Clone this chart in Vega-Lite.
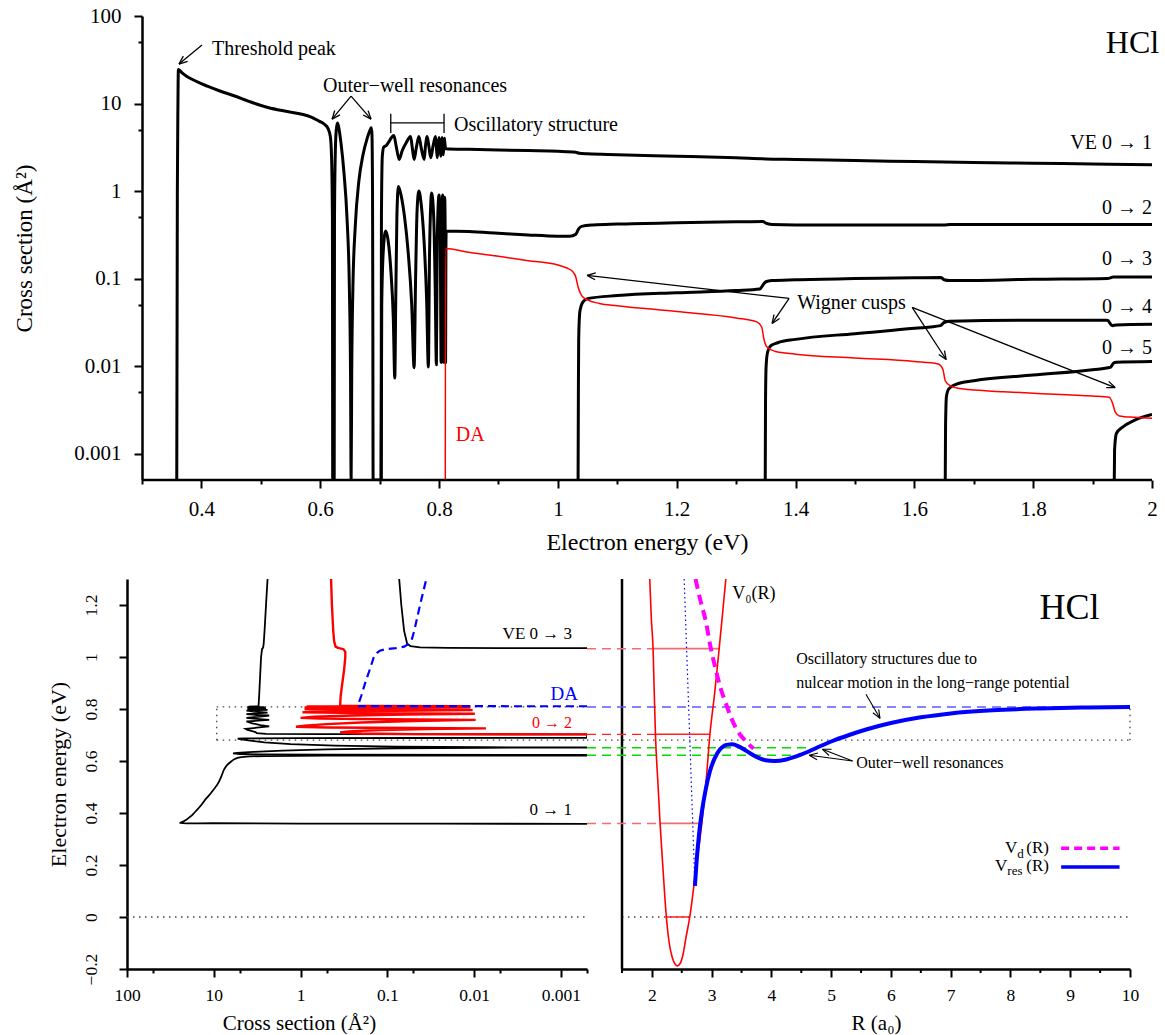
{
"$schema": "https://vega.github.io/schema/vega-lite/v6.json",
"padding": {"left": 13, "top": 5, "right": 5, "bottom": 2},
"background": "white",
"config": {"view": {"stroke": null}, "font": "Liberation Serif",
 "axis": {"domainColor": "black", "domainWidth": 2.5, "tickColor": "black", "tickWidth": 2, "labelColor": "black", "titleColor": "black", "grid": false, "labelFont": "Liberation Serif", "titleFont": "Liberation Serif", "titleFontWeight": "normal", "labelFlush": false, "labelOverlap": false, "labelBound": false},
 "text": {"font": "Liberation Serif"}},
"datasets": {
 "cs": [
{"s":"01","E":0.3585,"v":0.0005},{"s":"01","E":0.3595,"v":1},{"s":"01","E":0.3605,"v":10},{"s":"01","E":0.3612,"v":24.5},{"s":"01","E":0.363,"v":24},{"s":"01","E":0.367,"v":22.5},{"s":"01","E":0.375,"v":20.5},{"s":"01","E":0.385,"v":18.8},{"s":"01","E":0.396,"v":17.3},{"s":"01","E":0.41,"v":15.8},{"s":"01","E":0.43,"v":14},{"s":"01","E":0.456,"v":12.2},{"s":"01","E":0.48,"v":10.6},{"s":"01","E":0.512,"v":9.0},{"s":"01","E":0.54,"v":8.2},{"s":"01","E":0.5675,"v":7.6},{"s":"01","E":0.585,"v":7.0},{"s":"01","E":0.598,"v":6.3},{"s":"01","E":0.607,"v":5.8},{"s":"01","E":0.613,"v":5.2},{"s":"01","E":0.617,"v":4.2},{"s":"01","E":0.619,"v":2.5},{"s":"01","E":0.6205,"v":0.5},{"s":"01","E":0.621,"v":0.0005},{"s":"01","E":0.6235,"v":0.0005},{"s":"01","E":0.624,"v":0.5},{"s":"01","E":0.6255,"v":3},{"s":"01","E":0.627,"v":5},{"s":"01","E":0.629,"v":6},{"s":"01","E":0.631,"v":5.4},{"s":"01","E":0.635,"v":3.5},{"s":"01","E":0.64,"v":1.6},{"s":"01","E":0.645,"v":0.5},{"s":"01","E":0.649,"v":0.08},{"s":"01","E":0.651,"v":0.008},{"s":"01","E":0.652,"v":0.0005},{"s":"01","E":0.653,"v":0.008},{"s":"01","E":0.655,"v":0.08},{"s":"01","E":0.659,"v":0.4},{"s":"01","E":0.665,"v":1.3},{"s":"01","E":0.672,"v":2.6},{"s":"01","E":0.679,"v":4},{"s":"01","E":0.684,"v":5},{"s":"01","E":0.686,"v":5.3},{"s":"01","E":0.687,"v":4.5},{"s":"01","E":0.688,"v":1},{"s":"01","E":0.6885,"v":0.05},{"s":"01","E":0.689,"v":0.0005},{"s":"01","E":0.7025,"v":0.0005},{"s":"01","E":0.703,"v":0.5},{"s":"01","E":0.7045,"v":2.5},{"s":"01","E":0.707,"v":3.2},{"s":"01","E":0.711,"v":3.3},{"s":"01","E":0.716,"v":3.7},{"s":"01","E":0.72,"v":4.1},{"s":"01","E":0.724,"v":4.3},{"s":"01","E":0.728,"v":3.2},{"s":"01","E":0.733,"v":2.3},{"s":"01","E":0.738,"v":2.9},{"s":"01","E":0.745,"v":3.6},{"s":"01","E":0.752,"v":4.2},{"s":"01","E":0.755,"v":3.1},{"s":"01","E":0.758,"v":2.3},{"s":"01","E":0.762,"v":3.2},{"s":"01","E":0.766,"v":4.2},{"s":"01","E":0.77,"v":3.1},{"s":"01","E":0.775,"v":2.3},{"s":"01","E":0.777,"v":3.2},{"s":"01","E":0.78,"v":4.2},{"s":"01","E":0.783,"v":3.2},{"s":"01","E":0.786,"v":2.4},{"s":"01","E":0.79,"v":3.3},{"s":"01","E":0.794,"v":4.2},{"s":"01","E":0.7955,"v":3.2},{"s":"01","E":0.797,"v":2.4},{"s":"01","E":0.7985,"v":3.2},{"s":"01","E":0.8,"v":4.1},{"s":"01","E":0.8015,"v":3.2},{"s":"01","E":0.803,"v":2.5},{"s":"01","E":0.804,"v":3.2},{"s":"01","E":0.805,"v":4.1},{"s":"01","E":0.806,"v":3.3},{"s":"01","E":0.807,"v":2.6},{"s":"01","E":0.808,"v":3.3},{"s":"01","E":0.809,"v":4},{"s":"01","E":0.81,"v":3.4},{"s":"01","E":0.811,"v":3.05},{"s":"01","E":0.85,"v":3.0},{"s":"01","E":0.9,"v":2.95},{"s":"01","E":0.95,"v":2.9},{"s":"01","E":1.0,"v":2.85},{"s":"01","E":1.03,"v":2.78},{"s":"01","E":1.036,"v":2.7},{"s":"01","E":1.05,"v":2.66},{"s":"01","E":1.1,"v":2.6},{"s":"01","E":1.2,"v":2.5},{"s":"01","E":1.3,"v":2.4},{"s":"01","E":1.35,"v":2.33},{"s":"01","E":1.4,"v":2.3},{"s":"01","E":1.5,"v":2.23},{"s":"01","E":1.6,"v":2.17},{"s":"01","E":1.7,"v":2.12},{"s":"01","E":1.8,"v":2.08},{"s":"01","E":1.9,"v":2.04},{"s":"01","E":2.0,"v":2.0},
{"s":"02","E":0.7025,"v":0.0005},{"s":"02","E":0.7035,"v":0.05},{"s":"02","E":0.706,"v":0.2},{"s":"02","E":0.71,"v":0.35},{"s":"02","E":0.714,"v":0.28},{"s":"02","E":0.719,"v":0.12},{"s":"02","E":0.723,"v":0.035},{"s":"02","E":0.7255,"v":0.0073},{"s":"02","E":0.727,"v":0.05},{"s":"02","E":0.729,"v":0.5},{"s":"02","E":0.7315,"v":1.13},{"s":"02","E":0.736,"v":0.9},{"s":"02","E":0.742,"v":0.5},{"s":"02","E":0.748,"v":0.2},{"s":"02","E":0.754,"v":0.05},{"s":"02","E":0.758,"v":0.0096},{"s":"02","E":0.7605,"v":0.1},{"s":"02","E":0.763,"v":0.6},{"s":"02","E":0.766,"v":1.0},{"s":"02","E":0.77,"v":0.7},{"s":"02","E":0.775,"v":0.25},{"s":"02","E":0.779,"v":0.06},{"s":"02","E":0.782,"v":0.0098},{"s":"02","E":0.784,"v":0.2},{"s":"02","E":0.7875,"v":0.95},{"s":"02","E":0.791,"v":0.5},{"s":"02","E":0.7935,"v":0.08},{"s":"02","E":0.7955,"v":0.0104},{"s":"02","E":0.797,"v":0.3},{"s":"02","E":0.8,"v":0.9},{"s":"02","E":0.802,"v":0.3},{"s":"02","E":0.8035,"v":0.011},{"s":"02","E":0.805,"v":0.4},{"s":"02","E":0.806,"v":0.9},{"s":"02","E":0.807,"v":0.3},{"s":"02","E":0.808,"v":0.011},{"s":"02","E":0.809,"v":0.5},{"s":"02","E":0.8095,"v":0.85},{"s":"02","E":0.8105,"v":0.2},{"s":"02","E":0.811,"v":0.011},{"s":"02","E":0.8115,"v":0.2},{"s":"02","E":0.812,"v":0.35},{"s":"02","E":0.85,"v":0.345},{"s":"02","E":0.9,"v":0.33},{"s":"02","E":0.95,"v":0.315},{"s":"02","E":1.0,"v":0.305},{"s":"02","E":1.02,"v":0.305},{"s":"02","E":1.03,"v":0.32},{"s":"02","E":1.035,"v":0.37},{"s":"02","E":1.04,"v":0.395},{"s":"02","E":1.06,"v":0.41},{"s":"02","E":1.1,"v":0.42},{"s":"02","E":1.2,"v":0.435},{"s":"02","E":1.3,"v":0.445},{"s":"02","E":1.345,"v":0.45},{"s":"02","E":1.35,"v":0.43},{"s":"02","E":1.36,"v":0.415},{"s":"02","E":1.4,"v":0.41},{"s":"02","E":1.5,"v":0.41},{"s":"02","E":1.65,"v":0.41},{"s":"02","E":1.66,"v":0.415},{"s":"02","E":1.8,"v":0.415},{"s":"02","E":2.0,"v":0.415},
{"s":"03","E":1.034,"v":0.0005},{"s":"03","E":1.0345,"v":0.005},{"s":"03","E":1.035,"v":0.02},{"s":"03","E":1.037,"v":0.042},{"s":"03","E":1.042,"v":0.054},{"s":"03","E":1.05,"v":0.059},{"s":"03","E":1.1,"v":0.064},{"s":"03","E":1.2,"v":0.069},{"s":"03","E":1.3,"v":0.073},{"s":"03","E":1.34,"v":0.076},{"s":"03","E":1.345,"v":0.084},{"s":"03","E":1.35,"v":0.092},{"s":"03","E":1.36,"v":0.095},{"s":"03","E":1.4,"v":0.097},{"s":"03","E":1.5,"v":0.1},{"s":"03","E":1.6,"v":0.102},{"s":"03","E":1.645,"v":0.103},{"s":"03","E":1.65,"v":0.097},{"s":"03","E":1.66,"v":0.095},{"s":"03","E":1.8,"v":0.098},{"s":"03","E":1.925,"v":0.1},{"s":"03","E":1.935,"v":0.104},{"s":"03","E":2.0,"v":0.104},
{"s":"04","E":1.349,"v":0.0005},{"s":"04","E":1.3495,"v":0.004},{"s":"04","E":1.3505,"v":0.01},{"s":"04","E":1.353,"v":0.0145},{"s":"04","E":1.358,"v":0.017},{"s":"04","E":1.37,"v":0.0185},{"s":"04","E":1.4,"v":0.0202},{"s":"04","E":1.5,"v":0.0235},{"s":"04","E":1.6,"v":0.027},{"s":"04","E":1.644,"v":0.029},{"s":"04","E":1.65,"v":0.0315},{"s":"04","E":1.66,"v":0.0325},{"s":"04","E":1.8,"v":0.0335},{"s":"04","E":1.925,"v":0.0335},{"s":"04","E":1.933,"v":0.029},{"s":"04","E":1.94,"v":0.0295},{"s":"04","E":2.0,"v":0.03},
{"s":"05","E":1.652,"v":0.0005},{"s":"05","E":1.6525,"v":0.002},{"s":"05","E":1.654,"v":0.0045},{"s":"05","E":1.658,"v":0.0055},{"s":"05","E":1.67,"v":0.0062},{"s":"05","E":1.7,"v":0.0068},{"s":"05","E":1.8,"v":0.0079},{"s":"05","E":1.9,"v":0.0091},{"s":"05","E":1.93,"v":0.0097},{"s":"05","E":1.935,"v":0.0108},{"s":"05","E":1.94,"v":0.0111},{"s":"05","E":2.0,"v":0.0113},
{"s":"06","E":1.9365,"v":0.0005},{"s":"06","E":1.937,"v":0.0011},{"s":"06","E":1.94,"v":0.0017},{"s":"06","E":1.95,"v":0.002},{"s":"06","E":1.97,"v":0.0024},{"s":"06","E":2.0,"v":0.0028},
{"s":"DA","E":0.8105,"v":0.0005},{"s":"DA","E":0.811,"v":0.22},{"s":"DA","E":0.85,"v":0.2},{"s":"DA","E":0.9,"v":0.18},{"s":"DA","E":0.95,"v":0.16},{"s":"DA","E":1.0,"v":0.143},{"s":"DA","E":1.015,"v":0.132},{"s":"DA","E":1.024,"v":0.122},{"s":"DA","E":1.03,"v":0.105},{"s":"DA","E":1.034,"v":0.08},{"s":"DA","E":1.04,"v":0.064},{"s":"DA","E":1.05,"v":0.057},{"s":"DA","E":1.07,"v":0.052},{"s":"DA","E":1.1,"v":0.049},{"s":"DA","E":1.2,"v":0.042},{"s":"DA","E":1.3,"v":0.0355},{"s":"DA","E":1.335,"v":0.032},{"s":"DA","E":1.343,"v":0.028},{"s":"DA","E":1.347,"v":0.02},{"s":"DA","E":1.352,"v":0.0165},{"s":"DA","E":1.365,"v":0.0148},{"s":"DA","E":1.4,"v":0.0137},{"s":"DA","E":1.5,"v":0.0124},{"s":"DA","E":1.6,"v":0.0113},{"s":"DA","E":1.64,"v":0.0106},{"s":"DA","E":1.648,"v":0.0092},{"s":"DA","E":1.652,"v":0.0068},{"s":"DA","E":1.66,"v":0.006},{"s":"DA","E":1.68,"v":0.0055},{"s":"DA","E":1.75,"v":0.0051},{"s":"DA","E":1.8,"v":0.0049},{"s":"DA","E":1.9,"v":0.00455},{"s":"DA","E":1.928,"v":0.0044},{"s":"DA","E":1.934,"v":0.0037},{"s":"DA","E":1.938,"v":0.003},{"s":"DA","E":1.945,"v":0.0027},{"s":"DA","E":1.97,"v":0.0026},{"s":"DA","E":2.0,"v":0.00254}
 ],
 "segTop": [
{"E":0.401,"v":46.6,"E2":0.3623,"v2":28.2},{"E":0.3623,"v":28.2,"E2":0.3768,"v2":30.3},{"E":0.3623,"v":28.2,"E2":0.3695,"v2":34.8},
{"E":0.6519,"v":12.15,"E2":0.6199,"v2":6.63},{"E":0.6199,"v":6.63,"E2":0.6332,"v2":7.43},{"E":0.6199,"v":6.63,"E2":0.6244,"v2":8.32},
{"E":0.6519,"v":12.15,"E2":0.6855,"v2":6.63},{"E":0.6855,"v":6.63,"E2":0.6806,"v2":8.3},{"E":0.6855,"v":6.63,"E2":0.6721,"v2":7.39},
{"E":0.7187,"v":6.02,"E2":0.8084,"v2":6.02},{"E":0.7187,"v":4.62,"E2":0.7187,"v2":7.62},{"E":0.8084,"v":4.62,"E2":0.8084,"v2":7.62},
{"E":1.3892,"v":0.0594,"E2":1.0492,"v2":0.1088},{"E":1.0492,"v":0.1088,"E2":1.0625,"v2":0.0971},{"E":1.0492,"v":0.1088,"E2":1.0638,"v2":0.1159},
{"E":1.3892,"v":0.0594,"E2":1.3606,"v2":0.0307},{"E":1.3606,"v":0.0307,"E2":1.3732,"v2":0.035},{"E":1.3606,"v":0.0307,"E2":1.3638,"v2":0.0387},
{"E":1.5963,"v":0.0468,"E2":1.6535,"v2":0.0119},{"E":1.6535,"v":0.0119,"E2":1.6507,"v2":0.015},{"E":1.6535,"v":0.0119,"E2":1.6411,"v2":0.0136},
{"E":1.5963,"v":0.0468,"E2":1.938,"v2":0.00569},{"E":1.938,"v":0.00569,"E2":1.9271,"v2":0.0067},{"E":1.938,"v":0.00569,"E2":1.9229,"v2":0.00568}
 ],
 "V0": [{"R":1.964,"E":1.3},{"R":1.99,"E":1.15},{"R":2.02,"E":1.03},{"R":2.04,"E":0.86},{"R":2.06,"E":0.7},{"R":2.1,"E":0.52},{"R":2.137,"E":0.36},{"R":2.19,"E":0.17},{"R":2.242,"E":0},{"R":2.29,"E":-0.1},{"R":2.34,"E":-0.155},{"R":2.39,"E":-0.182},{"R":2.426,"E":-0.188},{"R":2.47,"E":-0.18},{"R":2.52,"E":-0.145},{"R":2.57,"E":-0.08},{"R":2.634,"E":0},{"R":2.73,"E":0.17},{"R":2.835,"E":0.36},{"R":2.91,"E":0.53},{"R":2.97,"E":0.7},{"R":3.05,"E":0.86},{"R":3.125,"E":1.03},{"R":3.18,"E":1.16},{"R":3.237,"E":1.3}],
 "Vd": [{"R":2.73,"E":1.3},{"R":2.82,"E":1.21},{"R":2.9,"E":1.14},{"R":2.98,"E":1.04},{"R":3.07,"E":0.95},{"R":3.15,"E":0.88},{"R":3.24,"E":0.82},{"R":3.32,"E":0.77},{"R":3.4,"E":0.73},{"R":3.48,"E":0.7},{"R":3.57,"E":0.677},{"R":3.64,"E":0.66},{"R":3.7,"E":0.648}],
 "Vres": [{"R":2.72,"E":0.12},{"R":2.75,"E":0.22},{"R":2.79,"E":0.32},{"R":2.84,"E":0.41},{"R":2.9,"E":0.49},{"R":2.97,"E":0.56},{"R":3.05,"E":0.61},{"R":3.14,"E":0.645},{"R":3.25,"E":0.662},{"R":3.35,"E":0.664},{"R":3.45,"E":0.656},{"R":3.6,"E":0.636},{"R":3.75,"E":0.616},{"R":3.9,"E":0.603},{"R":4.05,"E":0.6},{"R":4.25,"E":0.606},{"R":4.5,"E":0.625},{"R":4.75,"E":0.65},{"R":5.0,"E":0.675},{"R":5.3,"E":0.7},{"R":5.6,"E":0.722},{"R":6.0,"E":0.746},{"R":6.5,"E":0.768},{"R":7.0,"E":0.783},{"R":7.7,"E":0.795},{"R":8.5,"E":0.802},{"R":9.3,"E":0.806},{"R":10,"E":0.808}]
},
"vconcat": [
{
 "width": 1025, "height": 464,
 "layer": [
  {"data": {"name": "cs"}, "transform": [{"filter": "datum.s != 'DA'"}],
   "mark": {"type": "line", "color": "black", "strokeWidth": 3, "clip": true, "strokeJoin": "round", "interpolate": "monotone"},
   "encoding": {
    "x": {"field": "E", "type": "quantitative", "scale": {"domain": [0.27475, 2], "nice": false, "zero": false},
     "axis": {"title": "Electron energy (eV)", "values": [0.3,0.4,0.5,0.6,0.7,0.8,0.9,1,1.1,1.2,1.3,1.4,1.5,1.6,1.7,1.8,1.9,2],
      "labelExpr": "abs(datum.value*5-round(datum.value*5))<0.001 ? format(datum.value,'~g') : ''",
      "tickSize": {"condition": {"test": "abs(datum.value*5-round(datum.value*5))<0.001", "value": 8}, "value": 4},
      "domain": false, "labelFontSize": 21, "labelPadding": 10, "titleFontSize": 24, "titleX": 520, "titleY": 62, "titleBaseline": "middle", "titleAlign": "center"}},
    "y": {"field": "v", "type": "quantitative", "scale": {"type": "log", "domain": [0.0005, 100], "nice": false},
     "axis": {"title": "Cross section (Å²)", "values": [0.001,0.005,0.01,0.05,0.1,0.5,1,5,10,50,100],
      "labelExpr": "abs(log(datum.value)/LN10-round(log(datum.value)/LN10))<0.01 ? format(datum.value,'~g') : ''",
      "tickSize": {"condition": {"test": "abs(log(datum.value)/LN10-round(log(datum.value)/LN10))<0.01", "value": 8}, "value": 4},
      "offset": -15, "labelFontSize": 21, "labelPadding": 13, "titleFontSize": 23, "titleX": -118, "titleY": 232, "titleBaseline": "middle", "titleAlign": "center", "titleAngle": -90}},
    "detail": {"field": "s"}}},
  {"data": {"name": "cs"}, "transform": [{"filter": "datum.s == 'DA'"}],
   "mark": {"type": "line", "color": "#ff0000", "strokeWidth": 1.5, "clip": true, "interpolate": "monotone"},
   "encoding": {"x": {"field": "E", "type": "quantitative"}, "y": {"field": "v", "type": "quantitative"}}},
  {"data": {"values": [{"E": 0.3, "E2": 2, "v": 0.0005}]},
   "mark": {"type": "rule", "color": "black", "strokeWidth": 2.5},
   "encoding": {"x": {"field": "E", "type": "quantitative"}, "x2": {"field": "E2"}, "y": {"field": "v", "type": "quantitative"}}},
  {"data": {"name": "segTop"},
   "mark": {"type": "rule", "color": "black", "strokeWidth": 1.3},
   "encoding": {"x": {"field": "E", "type": "quantitative"}, "x2": {"field": "E2"}, "y": {"field": "v", "type": "quantitative"}, "y2": {"field": "v2"}}},
  {"data": {"values": [{"E": 2, "v": 3.52, "t": "VE 0 → 1"}, {"E": 2, "v": 0.635, "t": "0 → 2"}, {"E": 2, "v": 0.166, "t": "0 → 3"}, {"E": 2, "v": 0.0468, "t": "0 → 4"}, {"E": 2, "v": 0.0163, "t": "0 → 5"}]},
   "mark": {"type": "text", "align": "right", "baseline": "middle", "fontSize": 20, "color": "black"},
   "encoding": {"x": {"field": "E", "type": "quantitative"}, "y": {"field": "v", "type": "quantitative"}, "text": {"field": "t"}}},
  {"data": {"values": [{"E": 0.4178, "v": 41.9, "t": "Threshold peak"}, {"E": 0.8253, "v": 5.66, "t": "Oscillatory structure"}, {"E": 1.4027, "v": 0.052, "t": "Wigner cusps"}]},
   "mark": {"type": "text", "align": "left", "baseline": "middle", "fontSize": 20, "color": "black"},
   "encoding": {"x": {"field": "E", "type": "quantitative"}, "y": {"field": "v", "type": "quantitative"}, "text": {"field": "t"}}},
  {"data": {"values": [{"E": 0.7596, "v": 15.8, "t": "Outer−well resonances"}]},
   "mark": {"type": "text", "align": "center", "baseline": "middle", "fontSize": 20, "color": "black"},
   "encoding": {"x": {"field": "E", "type": "quantitative"}, "y": {"field": "v", "type": "quantitative"}, "text": {"field": "t"}}},
  {"data": {"values": [{"E": 0.8281, "v": 0.00164, "t": "DA"}]},
   "mark": {"type": "text", "align": "left", "baseline": "middle", "fontSize": 20, "color": "#ff0000"},
   "encoding": {"x": {"field": "E", "type": "quantitative"}, "y": {"field": "v", "type": "quantitative"}, "text": {"field": "t"}}},
  {"data": {"values": [{"E": 2.012, "v": 49.1, "t": "HCl"}]},
   "mark": {"type": "text", "align": "right", "baseline": "middle", "fontSize": 32, "color": "black", "clip": false},
   "encoding": {"x": {"field": "E", "type": "quantitative"}, "y": {"field": "v", "type": "quantitative"}, "text": {"field": "t"}}}
 ]
},
{
 "hconcat": [
 {
  "width": 460, "height": 390,
  "layer": [
   {"data": {"values": [{"v": 100, "v2": 0.0005, "E": 0, "E2": 0}, {"v": 9.25, "v2": 0.0005, "E": 0.808, "E2": 0.808}, {"v": 9.25, "v2": 0.0005, "E": 0.68, "E2": 0.68}, {"v": 9.25, "v2": 9.25, "E": 0.68, "E2": 0.808}]},
    "mark": {"type": "rule", "color": "#444444", "strokeWidth": 1.3, "strokeDash": [1.5, 4.5]},
    "encoding": {
     "x": {"field": "v", "type": "quantitative", "scale": {"type": "log", "domain": [0.0005, 100], "reverse": true, "nice": false},
      "axis": {"title": "Cross section (Å²)", "values": [0.0005,0.001,0.005,0.01,0.05,0.1,0.5,1,5,10,50,100],
       "labelExpr": "abs(log(datum.value)/LN10-round(log(datum.value)/LN10))<0.01 ? format(datum.value,'~g') : ''",
       "tickSize": {"condition": {"test": "abs(log(datum.value)/LN10-round(log(datum.value)/LN10))<0.01", "value": 8}, "value": 4},
       "labelFontSize": 17.5, "labelPadding": 9, "titleFontSize": 21, "titleX": 172, "titleY": 54, "titleBaseline": "middle", "titleAlign": "center"}},
     "x2": {"field": "v2"},
     "y": {"field": "E", "type": "quantitative", "scale": {"domain": [-0.2, 1.3], "nice": false, "zero": false},
      "axis": {"title": "Electron energy (eV)", "values": [-0.2,-0.1,0,0.1,0.2,0.3,0.4,0.5,0.6,0.7,0.8,0.9,1,1.1,1.2],
       "labelExpr": "abs(datum.value*5-round(datum.value*5))<0.001 ? format(datum.value,'~g') : ''",
       "tickSize": {"condition": {"test": "abs(datum.value*5-round(datum.value*5))<0.001", "value": 8}, "value": 4},
       "labelAngle": -90, "labelAlign": "center", "labelBaseline": "middle", "labelPadding": 28, "labelFontSize": 17.5,
       "titleFontSize": 22, "titleX": -69, "titleY": 195, "titleBaseline": "middle", "titleAlign": "center", "titleAngle": -90}},
     "y2": {"field": "E2"}}},
   {"data": {"name": "cs"}, "transform": [{"filter": "datum.s == '01' && datum.E <= 0.619"}],
    "mark": {"type": "line", "color": "black", "strokeWidth": 1.8, "clip": true, "interpolate": "catmull-rom"},
    "encoding": {"x": {"field": "v", "type": "quantitative"}, "y": {"field": "E", "type": "quantitative"}, "order": {"field": "E", "type": "quantitative"}}},
   {"data": {"name": "cs"}, "transform": [{"filter": "(datum.s == '01' && datum.E >= 0.619) || datum.s == '03'"}],
    "mark": {"type": "line", "color": "black", "strokeWidth": 1.8, "clip": true},
    "encoding": {"x": {"field": "v", "type": "quantitative"}, "y": {"field": "E", "type": "quantitative"}, "order": {"field": "E", "type": "quantitative"}, "detail": {"field": "s"}}},
   {"data": {"name": "cs"}, "transform": [{"filter": "datum.s == '02'"}],
    "mark": {"type": "line", "color": "#ff0000", "strokeWidth": 2.4, "clip": true},
    "encoding": {"x": {"field": "v", "type": "quantitative"}, "y": {"field": "E", "type": "quantitative"}, "order": {"field": "E", "type": "quantitative"}}},
   {"data": {"name": "cs"}, "transform": [{"filter": "datum.s == 'DA'"}],
    "mark": {"type": "line", "color": "#0000ff", "strokeWidth": 2.2, "strokeDash": [8, 5], "clip": true},
    "encoding": {"x": {"field": "v", "type": "quantitative"}, "y": {"field": "E", "type": "quantitative"}, "order": {"field": "E", "type": "quantitative"}}},
   {"data": {"values": [{"v": 0.000744, "E": 1.0885, "t": "VE 0 → 3"}, {"v": 0.000744, "E": 0.412, "t": "0 → 1"}]},
    "mark": {"type": "text", "align": "right", "baseline": "middle", "fontSize": 17, "color": "black"},
    "encoding": {"x": {"field": "v", "type": "quantitative"}, "y": {"field": "E", "type": "quantitative"}, "text": {"field": "t"}}},
   {"data": {"values": [{"v": 0.000744, "E": 0.745, "t": "0 → 2"}]},
    "mark": {"type": "text", "align": "right", "baseline": "middle", "fontSize": 16, "color": "#ff0000"},
    "encoding": {"x": {"field": "v", "type": "quantitative"}, "y": {"field": "E", "type": "quantitative"}, "text": {"field": "t"}}},
   {"data": {"values": [{"v": 0.000634, "E": 0.8565, "t": "DA"}]},
    "mark": {"type": "text", "align": "right", "baseline": "middle", "fontSize": 19, "color": "#0000ff"},
    "encoding": {"x": {"field": "v", "type": "quantitative"}, "y": {"field": "E", "type": "quantitative"}, "text": {"field": "t"}}}
  ]
 },
 {
  "width": 508, "height": 390,
  "layer": [
   {"data": {"values": [{"R": 0.914, "R2": 10, "E": 0.68, "E2": 0.68}, {"R": 1.5, "R2": 10, "E": 0, "E2": 0}, {"R": 10, "R2": 10, "E": 0.68, "E2": 0.808}]},
    "mark": {"type": "rule", "color": "#444444", "strokeWidth": 1.3, "strokeDash": [1.5, 4.5], "clip": false},
    "encoding": {
     "x": {"field": "R", "type": "quantitative", "scale": {"domain": [1.5, 10], "nice": false, "zero": false},
      "axis": {"title": "R (a₀)", "values": [2,3,4,5,6,7,8,9,10], "format": "d", "tickSize": 8,
       "labelFontSize": 17.5, "labelPadding": 9, "labelColor": "black", "labelOpacity": 1, "titleFontSize": 21, "titleX": 254, "titleY": 54, "titleBaseline": "middle", "titleAlign": "center"}},
     "x2": {"field": "R2"},
     "y": {"field": "E", "type": "quantitative", "scale": {"domain": [-0.2, 1.3], "nice": false, "zero": false}, "axis": null},
     "y2": {"field": "E2"}}},
   {"data": {"values": [{"R": 1.5, "R2": 1.5, "E": -0.2, "E2": 1.3}]},
    "mark": {"type": "rule", "color": "black", "strokeWidth": 2.5},
    "encoding": {"x": {"field": "R", "type": "quantitative"}, "x2": {"field": "R2"}, "y": {"field": "E", "type": "quantitative"}, "y2": {"field": "E2"}}},
   {"data": {"values": [{"R": 1.5, "E": -0.2, "E2": -0.2154}, {"R": 2.5, "E": -0.2, "E2": -0.2154}, {"R": 3.5, "E": -0.2, "E2": -0.2154}, {"R": 4.5, "E": -0.2, "E2": -0.2154}, {"R": 5.5, "E": -0.2, "E2": -0.2154}, {"R": 6.5, "E": -0.2, "E2": -0.2154}, {"R": 7.5, "E": -0.2, "E2": -0.2154}, {"R": 8.5, "E": -0.2, "E2": -0.2154}, {"R": 9.5, "E": -0.2, "E2": -0.2154}]},
    "mark": {"type": "rule", "color": "black", "strokeWidth": 2, "clip": false},
    "encoding": {"x": {"field": "R", "type": "quantitative"}, "y": {"field": "E", "type": "quantitative"}, "y2": {"field": "E2"}}},
   {"data": {"values": [{"R": 0.914, "R2": 2.02, "E": 1.032, "E2": 1.032}, {"R": 0.914, "R2": 2.137, "E": 0.36, "E2": 0.36}]},
    "mark": {"type": "rule", "color": "#f26d6d", "strokeWidth": 1.5, "strokeDash": [9, 6], "clip": false},
    "encoding": {"x": {"field": "R", "type": "quantitative"}, "x2": {"field": "R2"}, "y": {"field": "E", "type": "quantitative"}, "y2": {"field": "E2"}}},
   {"data": {"values": [{"R": 0.914, "R2": 2.06, "E": 0.7027, "E2": 0.7027}]},
    "mark": {"type": "rule", "color": "#ff2020", "strokeWidth": 1.3, "strokeDash": [9, 6], "clip": false},
    "encoding": {"x": {"field": "R", "type": "quantitative"}, "x2": {"field": "R2"}, "y": {"field": "E", "type": "quantitative"}, "y2": {"field": "E2"}}},
   {"data": {"values": [{"R": 0.914, "R2": 10, "E": 0.808, "E2": 0.808}]},
    "mark": {"type": "rule", "color": "#5b5bff", "strokeWidth": 1.5, "strokeDash": [9, 6], "clip": false},
    "encoding": {"x": {"field": "R", "type": "quantitative"}, "x2": {"field": "R2"}, "y": {"field": "E", "type": "quantitative"}, "y2": {"field": "E2"}}},
   {"data": {"values": [{"R": 0.914, "R2": 4.68, "E": 0.651, "E2": 0.651}, {"R": 0.914, "R2": 4.38, "E": 0.622, "E2": 0.622}]},
    "mark": {"type": "rule", "color": "#00dd00", "strokeWidth": 1.5, "strokeDash": [9, 6], "clip": false},
    "encoding": {"x": {"field": "R", "type": "quantitative"}, "x2": {"field": "R2"}, "y": {"field": "E", "type": "quantitative"}, "y2": {"field": "E2"}}},
   {"data": {"values": [{"R": 2.02, "R2": 3.125, "E": 1.032, "E2": 1.032}, {"R": 2.137, "R2": 2.835, "E": 0.36, "E2": 0.36}]},
    "mark": {"type": "rule", "color": "#f26d6d", "strokeWidth": 1.8},
    "encoding": {"x": {"field": "R", "type": "quantitative"}, "x2": {"field": "R2"}, "y": {"field": "E", "type": "quantitative"}, "y2": {"field": "E2"}}},
   {"data": {"values": [{"R": 2.06, "R2": 2.97, "E": 0.7027, "E2": 0.7027}, {"R": 2.242, "R2": 2.634, "E": 0, "E2": 0}]},
    "mark": {"type": "rule", "color": "#ff2020", "strokeWidth": 1.5},
    "encoding": {"x": {"field": "R", "type": "quantitative"}, "x2": {"field": "R2"}, "y": {"field": "E", "type": "quantitative"}, "y2": {"field": "E2"}}},
   {"data": {"values": [{"R": 2.54, "R2": 2.72, "E": 1.3, "E2": 0.12}]},
    "mark": {"type": "rule", "color": "#0000ff", "strokeWidth": 1.2, "strokeDash": [1.5, 3]},
    "encoding": {"x": {"field": "R", "type": "quantitative"}, "x2": {"field": "R2"}, "y": {"field": "E", "type": "quantitative"}, "y2": {"field": "E2"}}},
   {"data": {"name": "V0"},
    "mark": {"type": "line", "color": "#ff0000", "strokeWidth": 1.6, "clip": true, "interpolate": "monotone"},
    "encoding": {"x": {"field": "R", "type": "quantitative"}, "y": {"field": "E", "type": "quantitative"}}},
   {"data": {"name": "Vd"},
    "mark": {"type": "line", "color": "#ff00ff", "strokeWidth": 4, "strokeDash": [10, 6], "clip": true, "interpolate": "monotone"},
    "encoding": {"x": {"field": "R", "type": "quantitative"}, "y": {"field": "E", "type": "quantitative"}}},
   {"data": {"name": "Vres"},
    "mark": {"type": "line", "color": "#0000ff", "strokeWidth": 4, "clip": true, "interpolate": "monotone"},
    "encoding": {"x": {"field": "R", "type": "quantitative"}, "y": {"field": "E", "type": "quantitative"}}},
   {"data": {"values": [
     {"R": 5.582, "E": 0.8565, "R2": 5.817, "E2": 0.7642}, {"R": 5.817, "E": 0.7642, "R2": 5.795, "E2": 0.7985}, {"R": 5.817, "E": 0.7642, "R2": 5.698, "E2": 0.7854},
     {"R": 5.358, "E": 0.6, "R2": 4.855, "E2": 0.645}, {"R": 4.855, "E": 0.645, "R2": 4.964, "E2": 0.6212}, {"R": 4.855, "E": 0.645, "R2": 5.006, "E2": 0.6454},
     {"R": 5.358, "E": 0.6, "R2": 4.632, "E2": 0.6219}, {"R": 4.632, "E": 0.6219, "R2": 4.763, "E2": 0.605}, {"R": 4.632, "E": 0.6219, "R2": 4.778, "E2": 0.6308}]},
    "mark": {"type": "rule", "color": "black", "strokeWidth": 1.1},
    "encoding": {"x": {"field": "R", "type": "quantitative"}, "x2": {"field": "R2"}, "y": {"field": "E", "type": "quantitative"}, "y2": {"field": "E2"}}},
   {"data": {"values": [{"R": 8.848, "R2": 9.825, "E": 0.2642, "E2": 0.2642}]},
    "mark": {"type": "rule", "color": "#ff00ff", "strokeWidth": 3.5, "strokeDash": [8, 5]},
    "encoding": {"x": {"field": "R", "type": "quantitative"}, "x2": {"field": "R2"}, "y": {"field": "E", "type": "quantitative"}, "y2": {"field": "E2"}}},
   {"data": {"values": [{"R": 8.848, "R2": 9.825, "E": 0.1923, "E2": 0.1923}]},
    "mark": {"type": "rule", "color": "#0000ff", "strokeWidth": 3.5},
    "encoding": {"x": {"field": "R", "type": "quantitative"}, "x2": {"field": "R2"}, "y": {"field": "E", "type": "quantitative"}, "y2": {"field": "E2"}}},
   {"data": {"values": [{"R": 8.114, "E": 0.2665, "t": "V"}, {"R": 8.645, "E": 0.2665, "t": "(R)"}, {"R": 7.947, "E": 0.196, "t": "V"}, {"R": 8.645, "E": 0.196, "t": "(R)"}]},
    "mark": {"type": "text", "align": "right", "baseline": "middle", "fontSize": 17, "color": "black"},
    "encoding": {"x": {"field": "R", "type": "quantitative"}, "y": {"field": "E", "type": "quantitative"}, "text": {"field": "t"}}},
   {"data": {"values": [{"R": 8.114, "E": 0.2423, "t": "d"}, {"R": 7.947, "E": 0.177, "t": "res"}]},
    "mark": {"type": "text", "align": "left", "baseline": "middle", "fontSize": 13, "color": "black"},
    "encoding": {"x": {"field": "R", "type": "quantitative"}, "y": {"field": "E", "type": "quantitative"}, "text": {"field": "t"}}},
   {"data": {"values": [{"R": 4.415, "E": 0.9923, "t": "Oscillatory structures due to"}, {"R": 4.415, "E": 0.9, "t": "nulcear motion in the long−range potential"}, {"R": 5.42, "E": 0.5923, "t": "Outer−well resonances"}]},
    "mark": {"type": "text", "align": "left", "baseline": "middle", "fontSize": 16, "color": "black"},
    "encoding": {"x": {"field": "R", "type": "quantitative"}, "y": {"field": "E", "type": "quantitative"}, "text": {"field": "t"}}},
   {"data": {"values": [{"R": 3.343, "E": 1.241, "t": "V₀(R)"}]},
    "mark": {"type": "text", "align": "left", "baseline": "middle", "fontSize": 18, "color": "black"},
    "encoding": {"x": {"field": "R", "type": "quantitative"}, "y": {"field": "E", "type": "quantitative"}, "text": {"field": "t"}}},
   {"data": {"values": [{"R": 8.987, "E": 1.1885, "t": "HCl"}]},
    "mark": {"type": "text", "align": "center", "baseline": "middle", "fontSize": 36, "color": "black"},
    "encoding": {"x": {"field": "R", "type": "quantitative"}, "y": {"field": "E", "type": "quantitative"}, "text": {"field": "t"}}}
  ]
 }
 ],
 "spacing": 35,
 "bounds": "flush"
}
],
"spacing": 99,
"bounds": "flush"
}
